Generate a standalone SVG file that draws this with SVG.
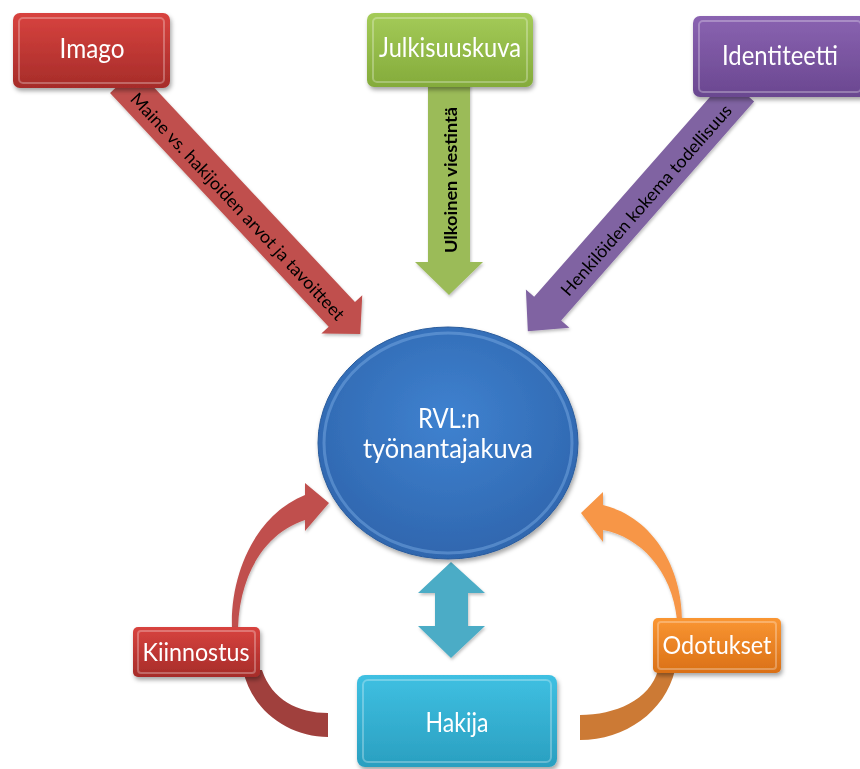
<svg xmlns="http://www.w3.org/2000/svg" width="860" height="769" viewBox="0 0 860 769">
<defs>
<style>
.lbl{font-family:Lato,"Liberation Sans",sans-serif;fill:#fff;font-size:26px;text-anchor:middle}
.sm{font-size:25px}
.alb{font-family:Lato,"Liberation Sans",sans-serif;fill:#000;font-size:17.5px;text-anchor:middle;dominant-baseline:central}
.hl{fill:none;stroke:#fff;stroke-opacity:0.28;stroke-width:2}
</style>
<filter id="sh" x="-20%" y="-20%" width="140%" height="150%"><feDropShadow dx="1.5" dy="3" stdDeviation="2" flood-color="#000" flood-opacity="0.35"/></filter>
<filter id="ash" x="-20%" y="-20%" width="140%" height="140%"><feDropShadow dx="1" dy="2" stdDeviation="1.5" flood-color="#000" flood-opacity="0.25"/></filter>
<linearGradient id="gRed" x1="0" y1="0" x2="0" y2="1"><stop offset="0" stop-color="#d8433f"/><stop offset="1" stop-color="#a62c29"/></linearGradient>
<linearGradient id="gGreen" x1="0" y1="0" x2="0" y2="1"><stop offset="0" stop-color="#a4cb58"/><stop offset="1" stop-color="#84ab3b"/></linearGradient>
<linearGradient id="gPurple" x1="0" y1="0" x2="0" y2="1"><stop offset="0" stop-color="#8a63b1"/><stop offset="1" stop-color="#6a4790"/></linearGradient>
<linearGradient id="gAqua" x1="0" y1="0" x2="0" y2="1"><stop offset="0" stop-color="#3fc0e2"/><stop offset="1" stop-color="#2a9fc0"/></linearGradient>
<linearGradient id="gOrange" x1="0" y1="0" x2="0" y2="1"><stop offset="0" stop-color="#fa9633"/><stop offset="1" stop-color="#da7016"/></linearGradient>
<radialGradient id="gBlue" cx="0.5" cy="0.4" r="0.6"><stop offset="0" stop-color="#3f82d0"/><stop offset="1" stop-color="#2f66ae"/></radialGradient>
</defs>

<g id="connectors">
  <g id="arrow-imago" filter="url(#ash)">
    <polygon transform="translate(130,88) rotate(46.9)" fill="#c0504d" points="-10,-18 310,-18 310,-28 337,0 310,28 310,18 -10,18"/>
    <text class="alb" transform="translate(130,88) rotate(46.9)" x="160" y="2" textLength="304" lengthAdjust="spacingAndGlyphs">Maine vs. hakijoiden arvot ja  tavoitteet</text>
  </g>
  <g id="arrow-julkisuus" filter="url(#ash)">
    <polygon fill="#9bbb59" points="428,80 470,80 470,262 483,262 449,295 415,262 428,262"/>
    <text class="alb" transform="translate(450,180) rotate(-90)" style="font-weight:bold" textLength="146" lengthAdjust="spacingAndGlyphs">Ulkoinen viestintä</text>
  </g>
  <g id="arrow-identiteetti" filter="url(#ash)">
    <polygon transform="translate(734,97) rotate(131.36)" fill="#8064a2" points="-10,-18 282,-18 282,-29 312,0 282,29 282,18 -10,18"/>
    <text class="alb" transform="translate(646,200) rotate(-48.6)" textLength="248" lengthAdjust="spacingAndGlyphs">Henkilöiden kokema todellisuus</text>
  </g>
  <polygon id="arrow-hakija" fill="#4bacc6" filter="url(#ash)" points="451,562 485,593 468,593 468,626 485,626 451,658 418,626 435,626 435,593 418,593"/>
  <path id="arrow-kiinnostus-up" fill="#c0504d" filter="url(#ash)" d="M232,628 C230,575 255,515 305,495 L305,483 L329,503 L305,531 L305,520 C268,532 240,570 238,628 Z"/>
  <path id="arrow-kiinnostus-low" fill="#a0403d" d="M243,670 C252,712 290,737 328,737 L328,713 C298,713 272,700 262,670 Z"/>
  <path id="arrow-odotukset-up" fill="#f79646" filter="url(#ash)" d="M682,620 C682,570 655,518 603,505 L603,492 L581,513 L603,542 L603,530 C640,537 672,570 677,620 Z"/>
  <path id="arrow-odotukset-low" fill="#cc7a35" d="M675,670 C665,712 625,740 580,740 L580,715 C615,715 650,700 658,670 Z"/>
</g>

<g id="node-center" filter="url(#sh)">
  <ellipse cx="448" cy="443" rx="130" ry="116" fill="url(#gBlue)" stroke="#2a5c9c" stroke-width="1"/>
  <ellipse cx="448" cy="443" rx="124" ry="110" fill="none" stroke="#7fb0e6" stroke-opacity="0.45" stroke-width="3"/>
  <text class="lbl" x="449" y="428" textLength="62" lengthAdjust="spacingAndGlyphs">RVL:n</text>
  <text class="lbl" x="448" y="458" textLength="170" lengthAdjust="spacingAndGlyphs">työnantajakuva</text>
</g>

<g id="node-imago" filter="url(#sh)">
  <rect x="13" y="13" width="157" height="75" rx="7" fill="url(#gRed)"/>
  <rect x="19" y="18" width="145" height="65" rx="4" class="hl"/>
  <text class="lbl" x="92" y="58" textLength="65" lengthAdjust="spacingAndGlyphs">Imago</text>
</g>
<g id="node-julkisuuskuva" filter="url(#sh)">
  <rect x="367" y="13" width="166" height="74" rx="7" fill="url(#gGreen)"/>
  <rect x="373" y="18" width="154" height="64" rx="4" class="hl"/>
  <text class="lbl" x="450" y="57" textLength="142" lengthAdjust="spacingAndGlyphs">Julkisuuskuva</text>
</g>
<g id="node-identiteetti" filter="url(#sh)">
  <rect x="693" y="16" width="174" height="81" rx="7" fill="url(#gPurple)"/>
  <rect x="699" y="21" width="162" height="71" rx="4" class="hl"/>
  <text class="lbl" x="780" y="65" textLength="116" lengthAdjust="spacingAndGlyphs">Identiteetti</text>
</g>
<g id="node-kiinnostus" filter="url(#sh)">
  <rect x="133" y="627" width="127" height="50" rx="5" fill="url(#gRed)"/>
  <rect x="138" y="631" width="117" height="42" rx="3" class="hl"/>
  <text class="lbl sm" x="196" y="661" textLength="107" lengthAdjust="spacingAndGlyphs">Kiinnostus</text>
</g>
<g id="node-odotukset" filter="url(#sh)">
  <rect x="653" y="618" width="128" height="55" rx="5" fill="url(#gOrange)"/>
  <rect x="658" y="622" width="118" height="47" rx="3" class="hl"/>
  <text class="lbl sm" x="717" y="654" textLength="109" lengthAdjust="spacingAndGlyphs">Odotukset</text>
</g>
<g id="node-hakija" filter="url(#sh)">
  <rect x="357" y="675" width="200" height="92" rx="8" fill="url(#gAqua)"/>
  <rect x="363" y="680" width="188" height="82" rx="5" class="hl"/>
  <text class="lbl" x="457" y="732" textLength="63" lengthAdjust="spacingAndGlyphs">Hakija</text>
</g>
</svg>
